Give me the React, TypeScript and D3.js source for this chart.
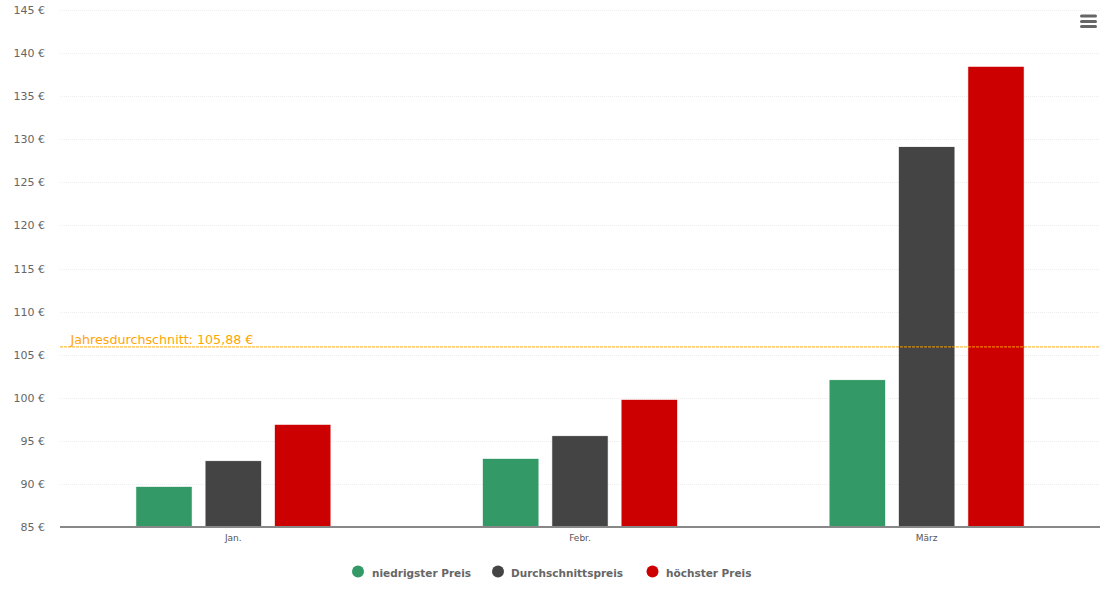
import React from "react";
import * as d3 from "d3";

const W = 1110, H = 605;
const categories = ["Jan.", "Febr.", "März"];
const seriesNames = ["niedrigster Preis", "Durchschnittspreis", "höchster Preis"];
const seriesColors = ["#339966", "#444444", "#cc0000"];
const lowValues = [89.65, 92.9, 102.05];
const avgValues = [92.65, 95.55, 129.1];
const highValues = [96.85, 99.75, 138.4];
const seriesValues = [lowValues, avgValues, highValues];
const yTicks = [85, 90, 95, 100, 105, 110, 115, 120, 125, 130, 135, 140, 145];
const yearAvg = 105.88;
const yearAvgLabel = "Jahresdurchschnitt: 105,88 €";
const font = "'DejaVu Sans', sans-serif";
const legendX = [358, 498, 652.5];
const legendLabelX = [372, 511, 666];

export default function App() {
  const x = d3.scaleBand<string>().domain(categories).range([60, 1100]);
  const bw = x.bandwidth();
  const inner = d3.scaleBand<string>().domain(seriesNames).range([bw * 0.2, bw * 0.8]).paddingInner(0.2).paddingOuter(0.1);
  const y = d3.scaleLinear().domain([85, 145]).range([527, 10]);
  const avgY = y(yearAvg) - 0.2;
  return (
    <svg width={W} height={H} viewBox={`0 0 ${W} ${H}`} style={{ position: "absolute", left: 0, top: 0, background: "#fff" }}>
      {yTicks.slice(1).map((t) => (
        <line key={t} x1={60} x2={1100} y1={Math.round(y(t)) + 0.5} y2={Math.round(y(t)) + 0.5} stroke="#eeeeee" strokeWidth={1} strokeDasharray="1 1" />
      ))}
      {yTicks.map((t) => (
        <text key={t} x={45} y={y(t) + 4} textAnchor="end" fontFamily={font} fontSize={11} fill="#666666">{`${t} €`}</text>
      ))}
      {seriesNames.map((s, i) =>
        categories.map((c, j) => {
          const left = (x(c) as number) + (inner(s) as number);
          return (
            <rect key={s + c} x={left} y={y(seriesValues[i][j])} width={inner.bandwidth()} height={527 - y(seriesValues[i][j])} fill={seriesColors[i]} stroke={seriesColors[i]} strokeOpacity={0.2} strokeWidth={1} />
          );
        })
      )}
      <line x1={60} x2={1100} y1={527} y2={527} stroke="#888888" strokeWidth={2} />
      <line x1={60} x2={1100} y1={avgY} y2={avgY} stroke="#ffa500" strokeOpacity={0.75} strokeWidth={1.2} strokeDasharray="3 1" />
      <text x={70.5} y={344} fontFamily={font} fontSize={12.7} fill="#ffa500">{yearAvgLabel}</text>
      {categories.map((c) => (
        <text key={c} x={(x(c) as number) + bw / 2} y={541} textAnchor="middle" fontFamily={font} fontSize={9} fill="#555555">{c}</text>
      ))}
      {seriesNames.map((s, i) => (
        <g key={s}>
          <circle cx={legendX[i]} cy={571.5} r={6} fill={seriesColors[i]} />
          <text x={legendLabelX[i]} y={577} fontFamily={font} fontSize={10.5} fontWeight="bold" fill="#666666">{s}</text>
        </g>
      ))}
      {[16, 21.5, 26.5].map((yy) => (
        <line key={yy} x1={1081.5} x2={1095.5} y1={yy} y2={yy} stroke="#666666" strokeWidth={3} strokeLinecap="round" />
      ))}
    </svg>
  );
}
